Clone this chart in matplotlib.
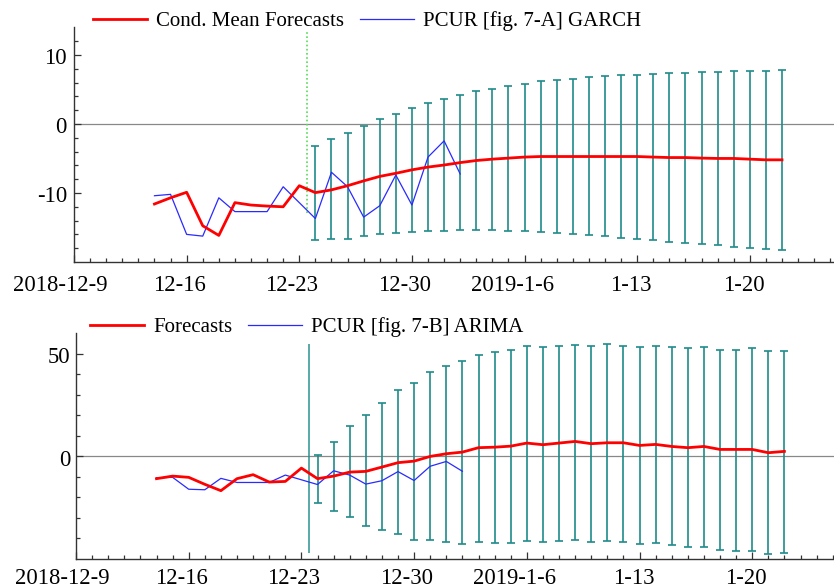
import matplotlib
matplotlib.use('Agg')
import matplotlib.pyplot as plt
import matplotlib.dates as mdates
from matplotlib.lines import Line2D
import numpy as np
import pandas as pd

plt.rcParams['font.family'] = ['Liberation Serif', 'DejaVu Serif']
plt.rcParams['axes.unicode_minus'] = False

# ---------------- data ----------------
fit_dates = pd.date_range('2018-12-14', '2019-01-22', freq='D')     # red lines
act_dates = pd.date_range('2018-12-14', '2019-01-02', freq='D')     # blue line
fc_dates = pd.date_range('2018-12-24', '2019-01-22', freq='D')      # error bars

garch_mean = [-11.6, -10.7, -9.9, -14.75, -16.15, -11.4, -11.75, -11.9, -12.0, -8.95,
              -9.95, -9.55, -8.95, -8.25, -7.6, -7.15, -6.65, -6.25, -5.95, -5.6,
              -5.3, -5.1, -4.95, -4.8, -4.72, -4.72, -4.72, -4.72, -4.72, -4.72,
              -4.72, -4.8, -4.87, -4.87, -4.95, -5.0, -5.0, -5.1, -5.2, -5.2]
pcur = [-10.4, -10.2, -16.0, -16.25, -10.7, -12.7, -12.7, -12.7, -9.1, -11.4,
        -13.7, -7.0, -9.1, -13.5, -11.85, -7.4, -11.75, -4.8, -2.45, -7.25]
garch_upper = [-3.25, -2.2, -1.3, -0.35, 0.7, 1.5, 2.3, 3.05, 3.6, 4.15,
               4.7, 5.1, 5.55, 5.85, 6.15, 6.3, 6.5, 6.75, 6.9, 7.05,
               7.05, 7.25, 7.4, 7.4, 7.55, 7.55, 7.65, 7.65, 7.65, 7.8]
garch_lower = [-16.85, -16.7, -16.6, -16.25, -16.0, -15.75, -15.65, -15.55, -15.55, -15.4,
               -15.4, -15.4, -15.55, -15.55, -15.7, -15.85, -15.95, -16.1, -16.25, -16.5,
               -16.7, -16.85, -17.1, -17.2, -17.35, -17.55, -17.8, -17.95, -18.1, -18.25]

arima_fc = [-10.85, -9.6, -10.2, -13.6, -16.7, -10.85, -8.9, -12.5, -12.2, -5.7,
            -10.85, -9.6, -7.65, -7.3, -5.2, -3.05, -2.3, 0.0, 1.3, 2.1,
            4.25, 4.5, 5.0, 6.5, 5.7, 6.5, 7.3, 6.2, 6.65, 6.65,
            5.35, 5.85, 4.85, 4.25, 4.85, 3.4, 3.4, 3.4, 1.8, 2.45]
arima_upper = [0.8, 7.0, 14.75, 19.95, 26.15, 32.15, 35.9, 41.05, 44.3, 46.4,
               49.65, 50.8, 52.1, 54.05, 53.55, 54.05, 54.3, 53.7, 54.55, 54.05,
               53.2, 54.05, 53.55, 52.7, 53.2, 52.1, 52.1, 52.7, 51.25, 51.6]
arima_lower = [-22.5, -26.4, -29.55, -33.9, -35.9, -38.0, -40.55, -40.55, -41.85, -42.5,
               -41.85, -42.2, -42.2, -41.25, -41.85, -41.4, -40.55, -41.85, -41.05, -41.55,
               -42.7, -42.2, -43.2, -44.3, -44.3, -45.75, -46.1, -46.1, -47.35, -46.9]

split_time = pd.Timestamp('2018-12-23 11:00')
garch_split_span = (-12.9, 13.25)
arima_split_span = (-47.3, 54.9)

major_dates = pd.date_range('2018-12-09', periods=7, freq='7D')
major_labels = ['2018-12-9', '12-16', '12-23', '12-30', '2019-1-6', '1-13', '1-20']
garch_yticks = [-10, 0, 10]
arima_yticks = [0, 50]

legend1 = ['Cond. Mean Forecasts', 'PCUR [fig. 7-A] GARCH']
legend2 = ['Forecasts', 'PCUR [fig. 7-B] ARIMA']

# ---------------- styling ----------------
RED = '#ff0000'
BLUE = '#2a2aff'
TEAL = '#1f8b8b'
GREEN = '#55dd55'
W, H = 834, 588
TICK_FS = 16.3
LEG_FS = 15

fig = plt.figure(figsize=(W / 100, H / 100), dpi=100)


def px_axes(l, t, r, b):
    return fig.add_axes([l / W, 1 - b / H, (r - l) / W, (b - t) / H])


ax1 = px_axes(74, 27.3, 834, 262)
ax2 = px_axes(76, 333.3, 834, 559)
start = pd.Timestamp('2018-12-09')


def style(ax, ndays, ylim, yt, yminor, label_pad, ylab_dx):
    ax.set_xlim(start, start + pd.Timedelta(days=ndays))
    ax.set_ylim(*ylim)
    for s in ['top', 'right']:
        ax.spines[s].set_visible(False)
    for s in ['left', 'bottom']:
        ax.spines[s].set_color('#333333')
        ax.spines[s].set_linewidth(1.0)
    ax.set_xticks(major_dates)
    ax.set_xticks(pd.date_range(start, start + pd.Timedelta(days=int(ndays)), freq='D'), minor=True)
    ax.set_yticks(yt)
    ax.set_yticks(yminor, minor=True)
    ax.tick_params(axis='both', which='major', direction='in', length=5.3, width=0.9,
                   color='#333333')
    ax.tick_params(axis='both', which='minor', direction='in', length=2.6, width=0.9,
                   color='#333333')
    ax.tick_params(axis='both', labelbottom=False, labelleft=False)
    ax.axhline(0, color='#888888', lw=0.9, zorder=1)
    for v in yt:
        ax.annotate(str(v), xy=(0, v), xycoords=ax.get_yaxis_transform(),
                    xytext=(-ylab_dx, -4), textcoords='offset pixels',
                    ha='right', va='center', fontsize=TICK_FS, annotation_clip=False)
    anns = []
    for d, lab in zip(major_dates, major_labels):
        a = ax.annotate(lab, xy=(mdates.date2num(d), 0), xycoords=ax.get_xaxis_transform(),
                        xytext=(0, -label_pad), textcoords='offset pixels',
                        ha='center', va='top', fontsize=TICK_FS, annotation_clip=False)
        anns.append(a)
    return anns


anns1 = style(ax1, 47.23, (-20, 14), garch_yticks,
              [v for v in range(-18, 14, 2) if v % 10 != 0], 13, 7)
anns2 = style(ax2, 47.08, (-50, 60), arima_yticks,
              [v for v in range(-40, 60, 10) if v not in (0, 50)], 9, 6)

# ----- top panel -----
gu = np.array(garch_upper)
gl = np.array(garch_lower)
ax1.errorbar(fc_dates, (gu + gl) / 2, yerr=(gu - gl) / 2, fmt='none', ecolor=TEAL,
             elinewidth=1.2, capsize=2.6, capthick=1.2, zorder=2)
ax1.vlines(split_time, *garch_split_span, colors=GREEN, linestyles=(0, (1, 1.5)), lw=1.2, zorder=2)
ax1.plot(fit_dates, garch_mean, color=RED, lw=2.0, zorder=4)
ax1.plot(act_dates, pcur, color=BLUE, lw=0.9, zorder=3)

# ----- bottom panel -----
au = np.array(arima_upper)
al = np.array(arima_lower)
ax2.errorbar(fc_dates, (au + al) / 2, yerr=(au - al) / 2, fmt='none', ecolor=TEAL,
             elinewidth=1.2, capsize=2.6, capthick=1.2, zorder=2)
ax2.vlines(split_time, *arima_split_span, colors=TEAL, lw=1.3, zorder=2, alpha=0.8)
ax2.plot(fit_dates, arima_fc, color=RED, lw=2.0, zorder=4)
ax2.plot(act_dates, pcur, color=BLUE, lw=0.9, zorder=3)

# ----- legends -----
def make_legend(ax, labels, x_px, y_px):
    h = [Line2D([], [], color=RED, lw=2.0), Line2D([], [], color=BLUE, lw=0.9)]
    lg = ax.legend(h, labels, loc='center left', bbox_to_anchor=(x_px / W, 1 - y_px / H),
                   bbox_transform=fig.transFigure, ncol=2, frameon=False, fontsize=LEG_FS,
                   borderpad=0, borderaxespad=0, handlelength=2.6, handletextpad=0.43,
                   columnspacing=0.75)
    return lg


make_legend(ax1, legend1, 93, 21)
make_legend(ax2, legend2, 90, 327)

# shift the date labels slightly left, as in the reference
fig.canvas.draw()
r = fig.canvas.get_renderer()
for anns, pad in ((anns1, 13), (anns2, 9)):
    for a in anns:
        w = a.get_window_extent(r).width
        a.xyann = (-0.145 * w, -pad)

fig.savefig('out.png', dpi=100)
